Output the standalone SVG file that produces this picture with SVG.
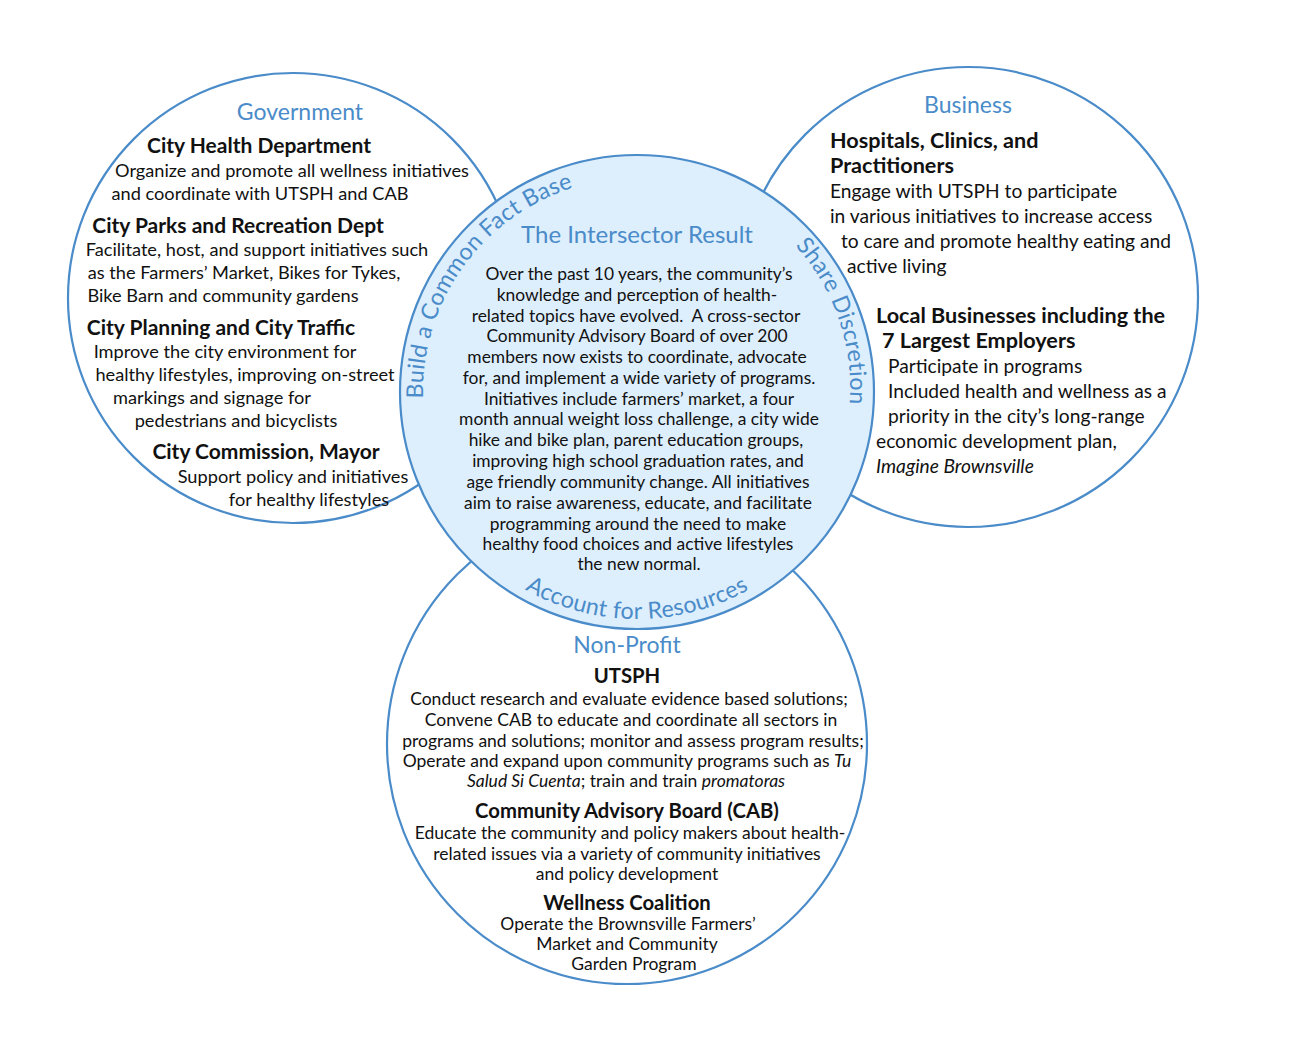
<svg xmlns="http://www.w3.org/2000/svg" width="1300" height="1050" viewBox="0 0 1300 1050">
<style>
.ring{fill:#ffffff;stroke:#4a8bc9;stroke-width:2.2}
.core{fill:#ddeefc;stroke:#4a8bc9;stroke-width:2.2}
.title{font-family:Lato,"Open Sans",sans-serif;font-size:23px;fill:#4a8bc9;text-anchor:middle}
.big{font-size:24px}
.arc{font-family:Lato,"Open Sans",sans-serif;font-size:23.2px;letter-spacing:0.3px;fill:#4a8bc9;text-anchor:middle}
.h{font-family:Lato,"Open Sans",sans-serif;font-weight:bold;fill:#111}
.b{font-family:Lato,"Open Sans",sans-serif;fill:#111}
.gov{font-size:18.2px;text-anchor:middle}
.govh{font-size:21px;text-anchor:middle}
.bus{font-size:19.2px}
.bush{font-size:21.6px}
.np{font-size:17.5px;text-anchor:middle}
.nph{font-size:20.3px;text-anchor:middle}
.ctr{font-size:17.4px;text-anchor:middle}
.i{font-style:italic}
</style>
<defs>
<path id="pLeft" d="M 425.93 427.32 A 214 214 0 0 1 601.68 180.93" fill="none"/>
<path id="pRight" d="M 733.5 199.5 A 210 210 0 0 1 829.5 478.5" fill="none"/>
<path id="pBottom" d="M 476.49 552.51 A 227 227 0 0 0 797.51 552.51" fill="none"/>
</defs>
<rect width="1300" height="1050" fill="#ffffff"/>
<g id="connectors"/>
<g id="government">
<circle class="ring" cx="293" cy="298" r="225"/>
</g>
<g id="business">
<circle class="ring" cx="968" cy="297" r="230"/>
</g>
<g id="nonprofit">
<circle class="ring" cx="627" cy="744" r="240"/>
</g>
<g id="intersector">
<circle class="core" cx="637" cy="392" r="237"/>
<text class="arc"><textPath href="#pLeft" startOffset="50%">Build a Common Fact Base</textPath></text>
<text class="arc"><textPath href="#pRight" startOffset="50%">Share Discretion</textPath></text>
<text class="arc"><textPath href="#pBottom" startOffset="50%">Account for Resources</textPath></text>
<text class="title big" x="637" y="243">The Intersector Result</text>
<g class="b ctr">
<text x="639" y="280">Over the past 10 years, the community’s</text>
<text x="637" y="301">knowledge and perception of health-</text>
<text x="636" y="322">related topics have evolved.&#160; A cross-sector</text>
<text x="637" y="342">Community Advisory Board of over 200</text>
<text x="637" y="363">members now exists to coordinate, advocate</text>
<text x="639" y="384">for, and implement a wide variety of programs.</text>
<text x="639" y="405">Initiatives include farmers’ market, a four</text>
<text x="639" y="425">month annual weight loss challenge, a city wide</text>
<text x="636" y="446">hike and bike plan, parent education groups,</text>
<text x="638" y="467">improving high school graduation rates, and</text>
<text x="638" y="488">age friendly community change. All initiatives</text>
<text x="638" y="509">aim to raise awareness, educate, and facilitate</text>
<text x="638" y="530">programming around the need to make</text>
<text x="638" y="550">healthy food choices and active lifestyles</text>
<text x="639" y="570">the new normal.</text>
</g>
</g>
<g id="government-text">
<text class="title" x="300" y="120">Government</text>
<text class="h govh" x="259" y="153">City Health Department</text>
<text class="b gov" x="292" y="177">Organize and promote all wellness initiatives</text>
<text class="b gov" x="260" y="200">and coordinate with UTSPH and CAB</text>
<text class="h govh" x="238" y="233">City Parks and Recreation Dept</text>
<text class="b gov" x="257" y="256">Facilitate, host, and support initiatives such</text>
<text class="b gov" x="244" y="279">as the Farmers’ Market, Bikes for Tykes,</text>
<text class="b gov" x="223" y="302">Bike Barn and community gardens</text>
<text class="h govh" x="221" y="335">City Planning and City Traffic</text>
<text class="b gov" x="225" y="358">Improve the city environment for</text>
<text class="b gov" x="245" y="381">healthy lifestyles, improving on-street</text>
<text class="b gov" x="212" y="404">markings and signage for</text>
<text class="b gov" x="236" y="427">pedestrians and bicyclists</text>
<text class="h govh" x="266" y="459">City Commission, Mayor</text>
<text class="b gov" x="293" y="483">Support policy and initiatives</text>
<text class="b gov" x="309" y="506">for healthy lifestyles</text>
</g>
<g id="business-text">
<text class="title" x="968" y="113">Business</text>
<text class="h bush" x="830" y="148">Hospitals, Clinics, and</text>
<text class="h bush" x="830" y="173">Practitioners</text>
<text class="b bus" x="830" y="198">Engage with UTSPH to participate</text>
<text class="b bus" x="830" y="223">in various initiatives to increase access</text>
<text class="b bus" x="841" y="248">to care and promote healthy eating and</text>
<text class="b bus" x="847" y="273">active living</text>
<text class="h bush" x="876" y="323">Local Businesses including the</text>
<text class="h bush" x="882" y="348">7 Largest Employers</text>
<text class="b bus" x="888" y="373">Participate in programs</text>
<text class="b bus" x="888" y="398">Included health and wellness as a</text>
<text class="b bus" x="888" y="423">priority in the city’s long-range</text>
<text class="b bus" x="876" y="448">economic development plan,</text>
<text class="b bus i" x="876" y="473">Imagine Brownsville</text>
</g>
<g id="nonprofit-text">
<text class="title" x="627" y="653">Non-Profit</text>
<text class="h nph" x="627" y="683">UTSPH</text>
<text class="b np" x="629" y="705">Conduct research and evaluate evidence based solutions;</text>
<text class="b np" x="631" y="726">Convene CAB to educate and coordinate all sectors in</text>
<text class="b np" x="633" y="747">programs and solutions; monitor and assess program results;</text>
<text class="b np" x="627" y="767">Operate and expand upon community programs such as <tspan class="i">Tu</tspan></text>
<text class="b np" x="626" y="787"><tspan class="i">Salud Si Cuenta</tspan>; train and train <tspan class="i">promatoras</tspan></text>
<text class="h nph" x="627" y="818">Community Advisory Board (CAB)</text>
<text class="b np" x="630" y="839">Educate the community and policy makers about health-</text>
<text class="b np" x="627" y="860">related issues via a variety of community initiatives</text>
<text class="b np" x="627" y="880">and policy development</text>
<text class="h nph" x="627" y="910">Wellness Coalition</text>
<text class="b np" x="628" y="930">Operate the Brownsville Farmers’</text>
<text class="b np" x="627" y="950">Market and Community</text>
<text class="b np" x="634" y="970">Garden Program</text>
</g>
</svg>
